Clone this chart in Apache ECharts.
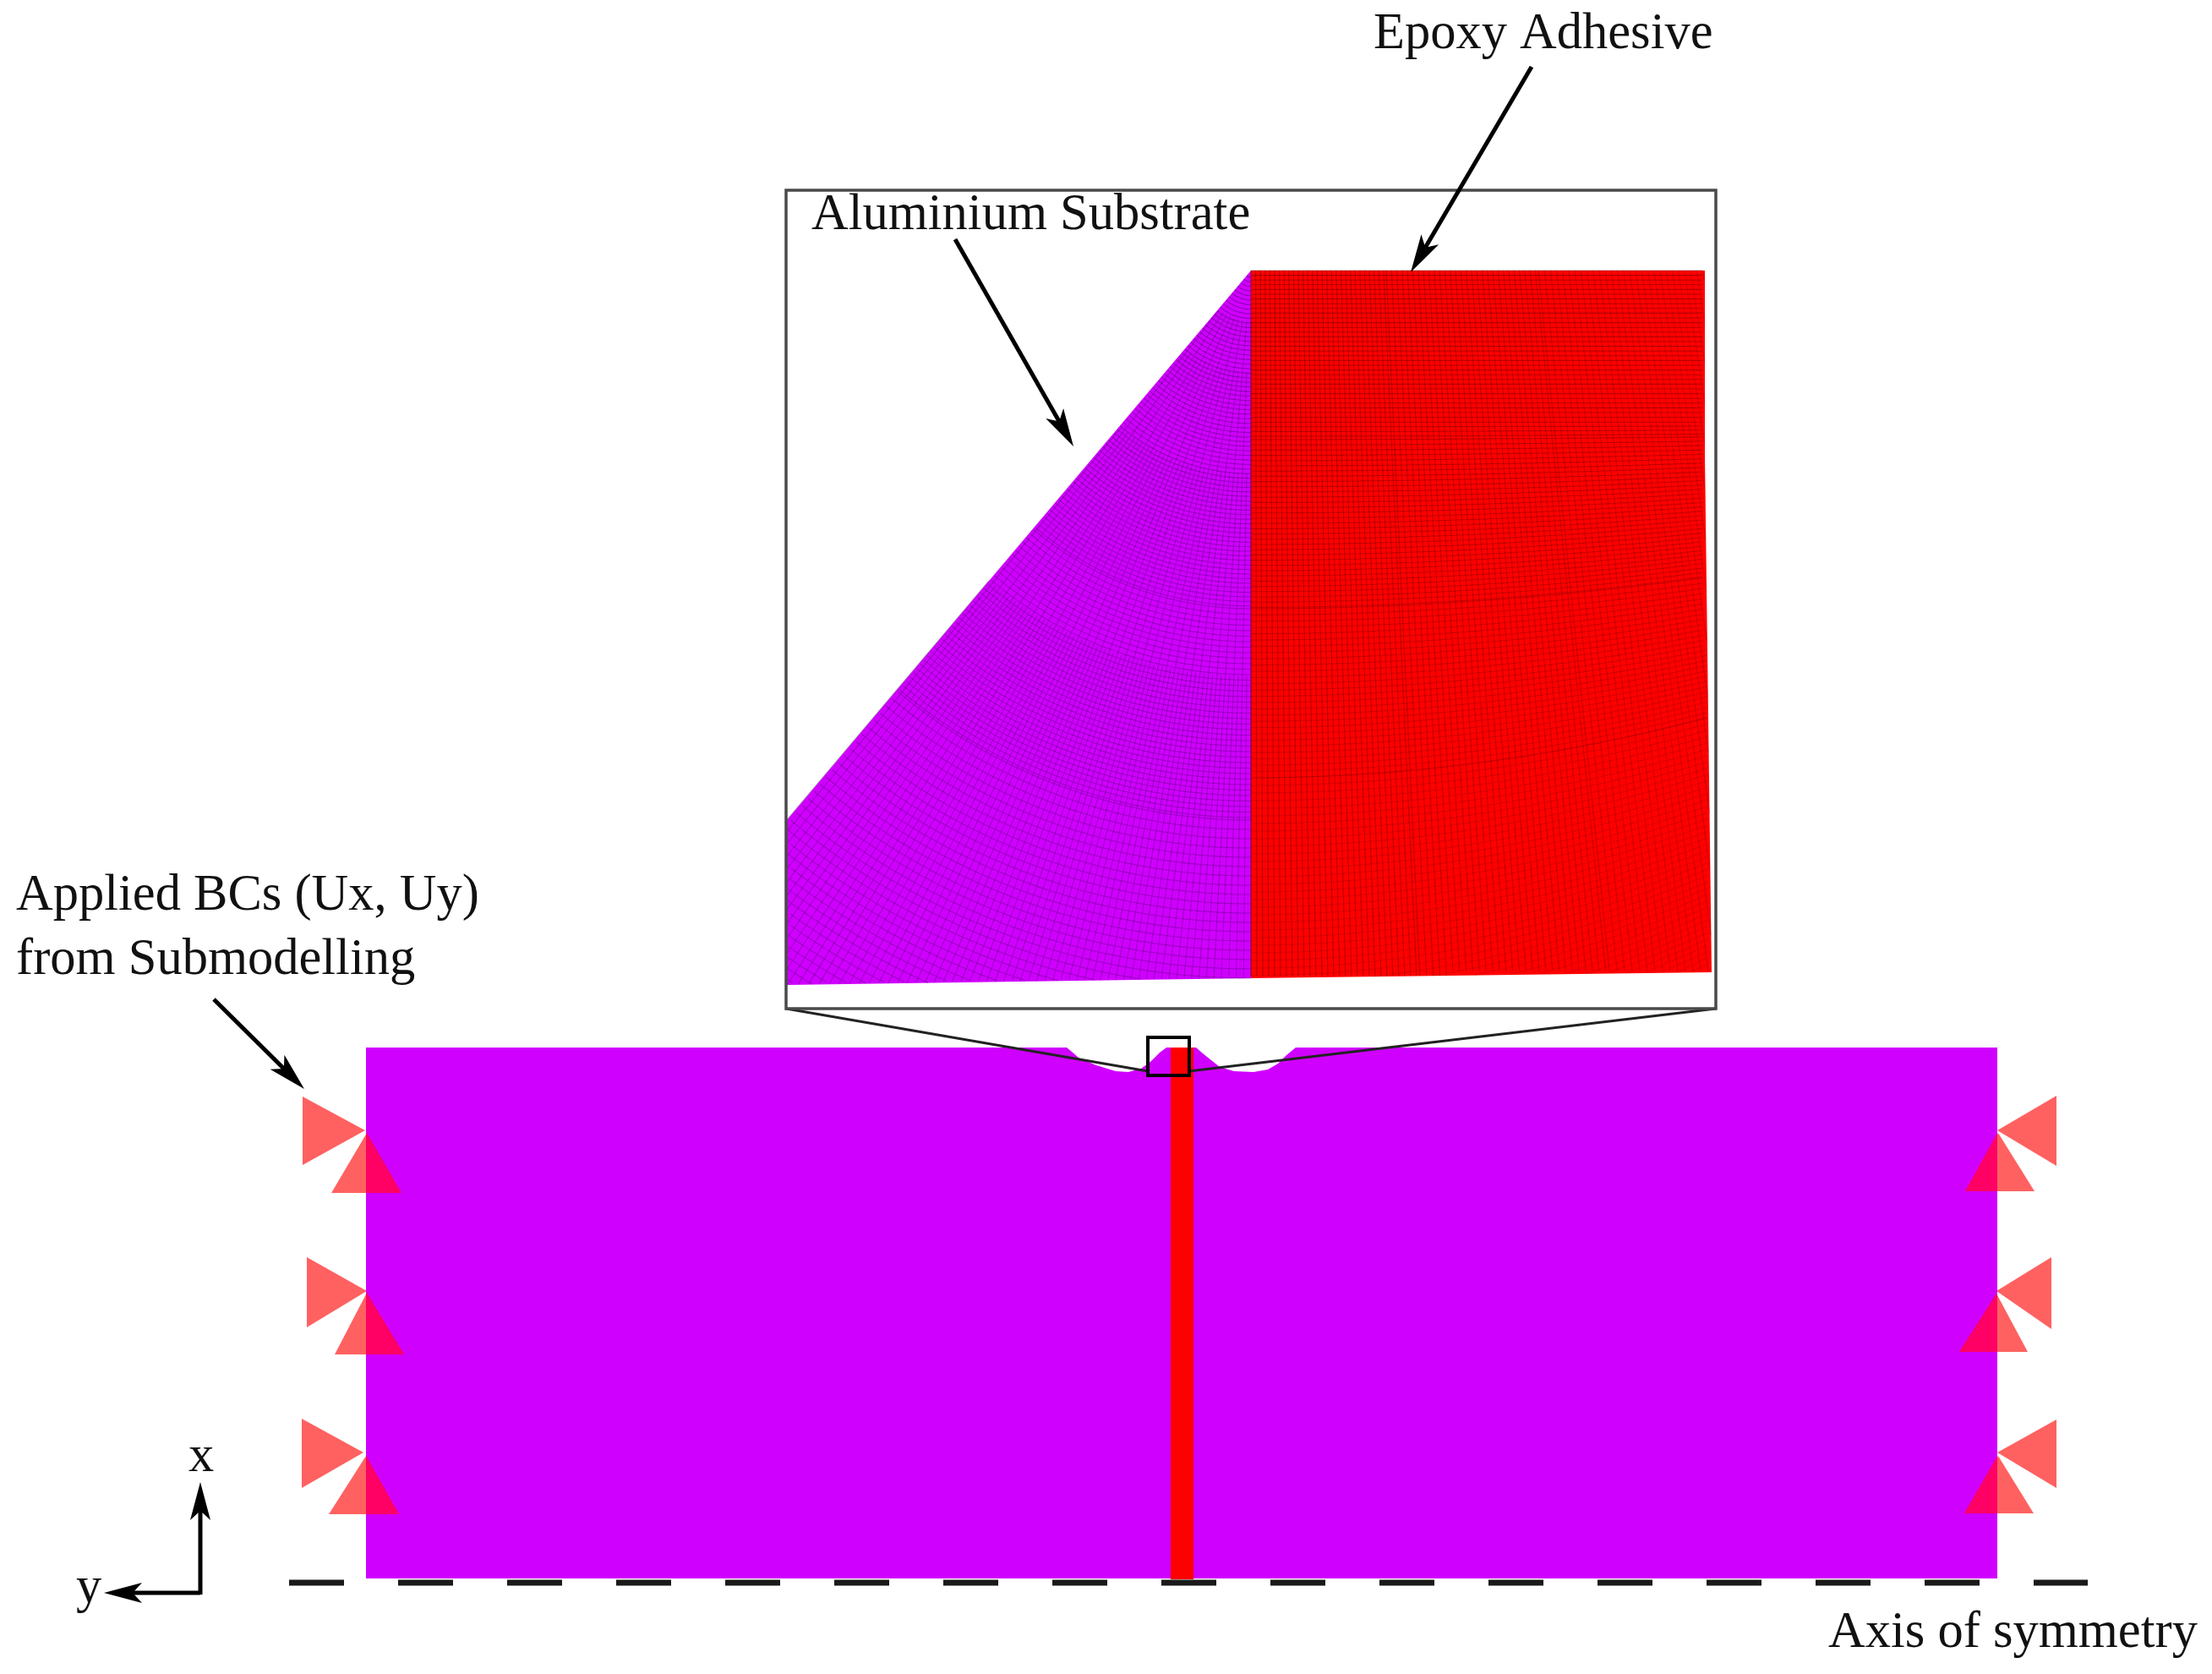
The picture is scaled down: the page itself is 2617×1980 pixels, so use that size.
<!DOCTYPE html>
<html>
<head>
<meta charset="utf-8">
<style>html,body{margin:0;padding:0;background:#fff}#chart{width:2617px;height:1980px}</style>
<script src="https://cdn.jsdelivr.net/npm/echarts@6/dist/echarts.min.js"></script>
</head>
<body>
<div id="chart"></div>
<script>
// Diagram outlines (axis units are picture pixels)
const plateOutline = [[433,1239],[1262,1239],[1268,1244],[1276,1251],[1297,1260],[1320,1267],[1335,1268],[1350,1264],[1362,1255],[1372,1245],[1380,1239],[1415,1239],[1423,1246],[1433,1254],[1443,1262],[1460,1267],[1483,1268],[1500,1265],[1512,1258],[1522,1248],[1533,1239],[2363,1239],[2363,1867],[433,1867]];
const adhesiveBar = [[1385,1239],[1412,1239],[1412,1868],[1385,1868]];
const insetSubstrate = [[1480,320],[1480,1157],[931,1165],[931,970]];
const insetAdhesive = [[1480,320],[2017,320],[2017,540],[2025,1150],[1480,1157]];
const insetFrame = [[930,225],[2030,225],[2030,1193],[930,1193]];
const zoomWindow = [[1358,1227],[1407,1227],[1407,1272],[1358,1272]];
const zoomGuides = [[[930,1193],[1358,1267]],[[2030,1193],[1407,1267]]];
const symmetryAxis = [[342,1872],[2470,1872]];
const supportTriangles = [
  [[358,1297],[432,1337],[358,1378]], [[434,1340],[475,1411],[392,1411]],
  [[363,1487],[434,1527],[363,1570]], [[434,1529],[478,1602],[396,1602]],
  [[357,1678],[430,1718],[357,1760]], [[433,1722],[472,1791],[389,1791]],
  [[2433,1296],[2363,1337],[2433,1379]], [[2364,1340],[2407,1409],[2325,1409]],
  [[2427,1487],[2362,1527],[2427,1572]], [[2362,1530],[2399,1599],[2318,1599]],
  [[2433,1679],[2363,1718],[2433,1760]], [[2364,1722],[2406,1790],[2324,1790]]
];
// The parts of the triangles that lie on the plate
const supportOverlaps = [
  [[433,1340],[475,1411],[433,1411]], [[433,1529],[478,1602],[433,1602]], [[433,1722],[472,1791],[433,1791]],
  [[2363,1340],[2363,1409],[2325,1409]], [[2363,1530],[2363,1599],[2318,1599]], [[2363,1722],[2363,1790],[2324,1790]]
];
const arrows = [
  [1130,283,1270,528],
  [1812,79,1669,322],
  [253,1182,360,1288],
  [237,1884,123,1884],
  [237,1886,237,1753]
];
// text, left edge, baseline
const labels = [
  ['Epoxy Adhesive',1625,59],
  ['Aluminium Substrate',960,273],
  ['Applied BCs (Ux, Uy)',19,1078],
  ['from Submodelling',19,1154],
  ['Axis of symmetry',2163,1950],
  ['x',223,1742],
  ['y',90,1897]
];
// Mesh texture: position, pitch, darkness per zone
const redColumnZones = [[1480,5.6,0.42],[1640,6.3,0.36],[1820,7.2,0.30],[2025,0,0.2]];
const redRowZones = [[320,5.6,0.42],[520,6.2,0.36],[720,7.4,0.28],[920,9,0.2],[1290,0,0.14]];
const purpleArcZones = [[8,5.4,0.42],[400,6.5,0.30],[650,11,0.30],[1010,0,0.30]];
const purpleRayStep = 0.6, purpleRayFan = 40.2;
const redFanOut = 0.25, redRowRise = 110;

const apex = insetSubstrate[0];
const rad = d => d * Math.PI / 180;
function eachInZone(zones, fn){
  for (let z = 0; z < zones.length - 1; z++){
    const [from, pitch, a0] = zones[z], [to, , a1] = zones[z+1];
    for (let p = from; p < to; p += pitch) fn(p, a0 + (a1 - a0) * (p - from) / (to - from));
  }
}
function substrateBottom(x){ return 1165 - (x - 931) * 8 / 549; }
function insideSubstrate(x, y){ return x >= 931 && x <= 1480 && y <= substrateBottom(x); }
function adhesiveRight(y){ return y < 540 ? 2017 : 2017 + (y - 540) * 8 / 610; }
function insideAdhesive(x, y){ return x >= 1480 && y >= 320 && x <= adhesiveRight(y) && y <= 1157 - (x - 1480) * 7 / 545; }
const meshLines = [];
function addInside(points, inside, a, c){
  let seg = [];
  points.forEach(q => {
    if (inside(q[0], q[1])) seg.push(q);
    else { if (seg.length > 1) meshLines.push({pts: seg, a, c}); seg = []; }
  });
  if (seg.length > 1) meshLines.push({pts: seg, a, c});
}
eachInZone(redColumnZones, (x, a) => {
  const pts = [];
  for (let y = 320; y <= 1158; y += 6) pts.push([1480 + (x - 1480) * (1 + redFanOut * (y - 320) / 837), y]);
  addInside(pts, insideAdhesive, a, '80,0,0');
});
eachInZone(redRowZones, (y0, a) => {
  const rise = Math.max(0, redRowRise * (y0 - 500) / 657), pts = [];
  for (let x = 1480; x <= 2026; x += 6) pts.push([x, y0 - rise * Math.pow((x - 1480) / 537, 2)]);
  addInside(pts, insideAdhesive, a, '80,0,0');
});
eachInZone(purpleArcZones, (r, a) => {
  const pts = [];
  for (let d = 0; d <= purpleRayFan; d += 0.4) pts.push([apex[0] - r * Math.sin(rad(d)), apex[1] + r * Math.cos(rad(d))]);
  addInside(pts, insideSubstrate, a, '50,0,70');
});
for (let k = 0; k * purpleRayStep <= purpleRayFan; k++){
  const d = k * purpleRayStep;
  const start = k % 8 === 0 ? 60 : k % 4 === 0 ? 120 : k % 2 === 0 ? 240 : 480;
  const dx = -Math.sin(rad(d)), dy = Math.cos(rad(d));
  let end = start;
  while (insideSubstrate(apex[0] + end * dx, apex[1] + end * dy) && end < 1100) end += 2;
  end -= 2;
  if (end > start) meshLines.push({pts: [[apex[0] + start * dx, apex[1] + start * dy], [apex[0] + end * dx, apex[1] + end * dy]], a: 0.3, c: '50,0,70'});
}

const base = {type: 'custom', coordinateSystem: 'cartesian2d', silent: true, clip: false, animation: false};
function polygons(name, list, fill, opacity){
  return Object.assign({}, base, {name, data: list.map((_, i) => [i]), z: 2,
    renderItem: (p, api) => ({type: 'polygon', shape: {points: list[p.dataIndex].map(q => api.coord(q))},
      style: {fill, opacity}})});
}
function outline(name, list, stroke, lineWidth, closed, dash){
  return Object.assign({}, base, {name, data: list.map((_, i) => [i]), z: 3,
    renderItem: (p, api) => ({type: closed ? 'polygon' : 'polyline',
      shape: {points: list[p.dataIndex].map(q => api.coord(q))},
      style: {fill: 'none', stroke, lineWidth, lineDash: dash || null, lineCap: 'butt'}})});
}
const series = [
  polygons('Aluminium plate', [plateOutline], '#d000ff', 1),
  polygons('Adhesive layer', [adhesiveBar], '#ff0000', 1),
  polygons('Boundary conditions', supportTriangles, '#ff0000', 0.62),
  polygons('Boundary conditions on plate', supportOverlaps, '#ff0064', 1),
  outline('Axis of symmetry', [symmetryAxis], '#1a1a1a', 7, false, [65,64]),
  polygons('Inset substrate', [insetSubstrate], '#d000ff', 1),
  polygons('Inset adhesive', [insetAdhesive], '#ff0000', 1),
  Object.assign({}, base, {name: 'Inset mesh', z: 3, data: meshLines.map((_, i) => [i]),
    renderItem: (p, api) => {
      const m = meshLines[p.dataIndex];
      return {type: 'polyline', shape: {points: m.pts.map(q => api.coord(q))},
        style: {fill: 'none', stroke: 'rgba(' + m.c + ',' + m.a.toFixed(3) + ')', lineWidth: 1.1}};
    }}),
  outline('Guides', zoomGuides, '#222', 3, false),
  outline('Inset frame', [insetFrame], '#4a4a4a', 3.5, true),
  outline('Zoom window', [zoomWindow], '#000', 4, true),
  Object.assign({}, base, {name: 'Arrows', z: 5, data: arrows.map((_, i) => [i]),
    renderItem: (p, api) => {
      const [x1, y1, x2, y2] = arrows[p.dataIndex];
      const a = api.coord([x1, y1]), b = api.coord([x2, y2]);
      const L = Math.hypot(b[0]-a[0], b[1]-a[1]), ux = (b[0]-a[0])/L, uy = (b[1]-a[1])/L;
      const nx = -uy, ny = ux, len = 45, hw = 12, notch = 34;
      return {type: 'group', children: [
        {type: 'line', shape: {x1: a[0], y1: a[1], x2: b[0]-ux*notch, y2: b[1]-uy*notch},
          style: {stroke: '#000', lineWidth: 5}},
        {type: 'polygon', shape: {points: [b,
          [b[0]-ux*len+nx*hw, b[1]-uy*len+ny*hw],
          [b[0]-ux*notch, b[1]-uy*notch],
          [b[0]-ux*len-nx*hw, b[1]-uy*len-ny*hw]]}, style: {fill: '#000'}}
      ]};
    }}),
  Object.assign({}, base, {name: 'Labels', z: 6, data: labels.map((_, i) => [i]),
    renderItem: (p, api) => {
      const [text, x, y] = labels[p.dataIndex], c = api.coord([x, y]);
      return {type: 'text', style: {text, x: c[0], y: c[1] + 13, fill: '#111',
        font: '60.5px "Liberation Serif"', textAlign: 'left', verticalAlign: 'bottom'}};
    }})
];
const chart = echarts.init(document.getElementById('chart'), null, {width: 2617, height: 1980});
chart.setOption({
  backgroundColor: '#fff', animation: false, tooltip: {show: false},
  grid: {left: 0, right: 0, top: 0, bottom: 0},
  xAxis: {type: 'value', min: 0, max: 2617, show: false},
  yAxis: {type: 'value', min: 0, max: 1980, inverse: true, show: false},
  series
});
</script>
</body>
</html>
